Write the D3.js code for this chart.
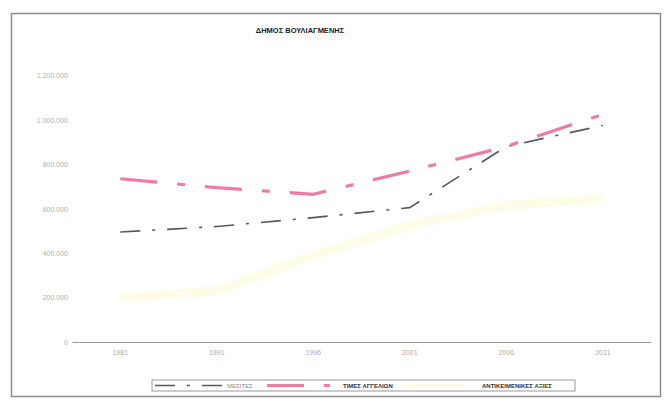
<!DOCTYPE html>
<html>
<head>
<meta charset="utf-8">
<script src="https://cdn.jsdelivr.net/npm/d3@7"></script>
<style>
  body { margin: 0; background: #fff; }
  svg { display: block; font-family: "Liberation Sans", Arial, sans-serif; }
</style>
</head>
<body>
<svg id="chart" width="667" height="406"></svg>
<script>
/*
    Chart data
 */
var years = ["1981", "1991", "1996", "2001", "2006", "2011"];
var mesites = [495000, 520000, 560000, 605000, 880000, 975000];
var times = [735000, 695000, 665000, 770000, 880000, 1025000];
var antikeimenikes = [200000, 230000, 390000, 525000, 615000, 645000];
var yTicks = [0, 200000, 400000, 600000, 800000, 1000000, 1200000];

var seriesNames = ["ΜΕΣΙΤΕΣ", "ΤΙΜΕΣ ΑΓΓΕΛΙΩΝ", "ΑΝΤΙΚΕΙΜΕΝΙΚΕΣ ΑΞΙΕΣ"];

var svg = d3.select("#chart");

// outer frame
svg.append("rect")
    .attr("x", 11.5).attr("y", 13.5)
    .attr("width", 649).attr("height", 383)
    .attr("fill", "none")
    .attr("stroke", "#8d8d8d")
    .attr("stroke-width", 1.5);

svg.append("text")
    .attr("x", 300).attr("y", 33)
    .attr("text-anchor", "middle")
    .attr("font-size", 7.5)
    .attr("font-weight", "bold")
    .attr("fill", "#222")
    .text("ΔΗΜΟΣ ΒΟΥΛΙΑΓΜΕΝΗΣ");

var x = d3.scaleBand().domain(years).range([72, 651]);
var y = d3.scaleLinear().domain([0, 1200000]).range([342, 75.5]);

var fmt = function(v){
    return d3.format(",")(v).replace(/,/g, ".");
};

// y axis (labels only)
var yAxis = svg.append("g")
    .attr("transform", "translate(72,0)")
    .call(d3.axisLeft(y).tickValues(yTicks).tickSize(0).tickPadding(4).tickFormat(fmt));
yAxis.select(".domain").remove();
yAxis.selectAll("text")
    .attr("font-size", 7)
    .attr("fill", "#adadad")
    .attr("font-family", "Liberation Sans, Arial, sans-serif");

// x axis
var xAxis = svg.append("g")
    .attr("transform", "translate(0,342)")
    .call(d3.axisBottom(x).tickSize(0).tickPadding(8));
xAxis.select(".domain")
    .attr("stroke", "#9c9c9c")
    .attr("stroke-width", 1.2);
xAxis.selectAll("text")
    .attr("font-size", 7)
    .attr("fill", "#adadad")
    .attr("font-family", "Liberation Sans, Arial, sans-serif");

var line = d3.line()
    .x(function(d, i){ return x(years[i]) + x.bandwidth() / 2; })
    .y(function(d){ return y(d); });

var styles = [
    {color: "#55595e", width: 1.6, dash: "20,12,3,12", opacity: 1},
    {color: "#f07aa6", width: 3.2, dash: "37,20,8,20", opacity: 1},
    {color: "#fcfce6", width: 9, dash: null, opacity: 0.9}
];
var allSeries = [mesites, times, antikeimenikes];

// draw yellow first, then grey and pink on top
[2, 0, 1].forEach(function(k){
    svg.append("path")
        .datum(allSeries[k])
        .attr("d", line)
        .attr("fill", "none")
        .attr("stroke", styles[k].color)
        .attr("stroke-width", styles[k].width)
        .attr("stroke-dasharray", styles[k].dash)
        .attr("stroke-linejoin", "round")
        .attr("opacity", styles[k].opacity);
});

/*
    Legend
 */
var legend = svg.append("g").attr("transform", "translate(152,380)");
legend.append("rect")
    .attr("width", 423).attr("height", 11)
    .attr("fill", "#fff")
    .attr("stroke", "#999")
    .attr("stroke-width", 1);

var legendItems = [
    {x0: 3, x1: 70, tx: 75, bold: false, textColor: "#8a8a8a"},
    {x0: 115, x1: 178, tx: 191, bold: true, textColor: "#333"},
    {x0: 250, x1: 312, tx: 330, bold: true, textColor: "#333"}
];

legendItems.forEach(function(d, k){
    legend.append("line")
        .attr("x1", d.x0).attr("x2", d.x1)
        .attr("y1", 5.5).attr("y2", 5.5)
        .attr("stroke", styles[k].color)
        .attr("stroke-width", styles[k].width === 9 ? 4 : styles[k].width)
        .attr("stroke-dasharray", styles[k].dash);
    legend.append("text")
        .attr("x", d.tx).attr("y", 7.5)
        .attr("font-size", 6)
        .attr("font-weight", d.bold ? "bold" : "normal")
        .attr("fill", d.textColor)
        .text(seriesNames[k]);
});
</script>
</body>
</html>
